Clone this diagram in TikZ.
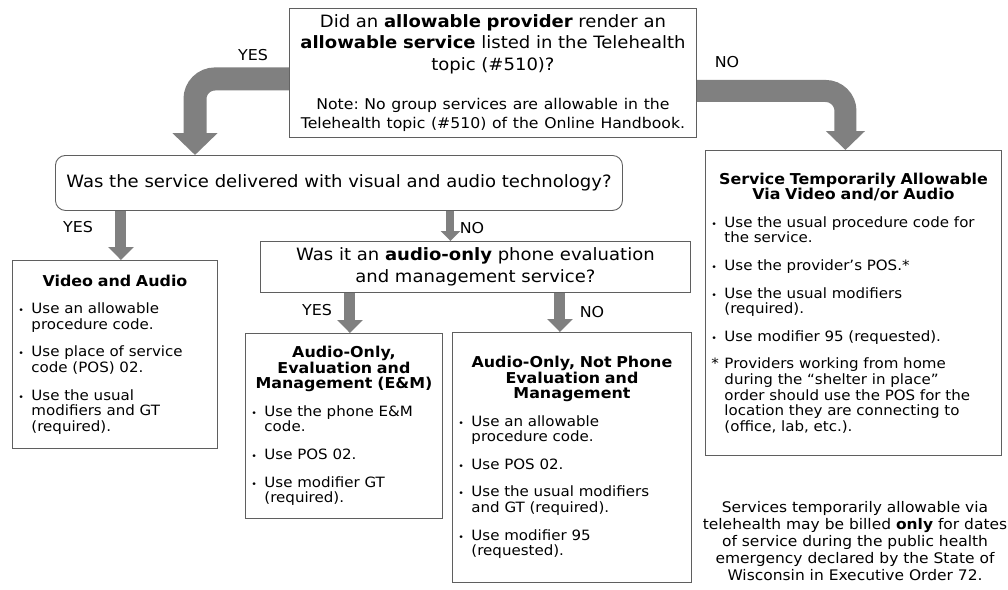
\documentclass[tikz,border=0pt]{standalone}
\usepackage{fontspec}
\setmainfont[FakeStretch=1.06]{DejaVu Sans}
\usetikzlibrary{arrows.meta,positioning,calc}
\definecolor{arrowgray}{RGB}{128,128,128}
\definecolor{linegray}{RGB}{95,95,95}
\newlength{\itmsep}
\setlength{\itmsep}{12pt}
\newcommand{\ttl}[1]{{\centering\fontsize{15}{15.5}\bfseries #1\par}}
\newcommand{\itm}[2][{\small\textbullet}]{\par\vspace{\itmsep}\hangindent=13pt\hangafter=1\noindent\hbox to 13pt{#1\hfil}#2\par}
\frenchspacing

\begin{document}
\begin{tikzpicture}[x=1pt,y=-1pt,
    box/.style={draw=linegray, line width=0.9pt, inner xsep=6pt, inner ysep=6pt,
      anchor=north west, align=left, font=\fontsize{14.2}{15.6}\selectfont},
    qbox/.style={draw=linegray, line width=0.9pt, align=center, anchor=north west,
      font=\fontsize{17}{21.5}\selectfont},
    fatarrow/.style={draw=arrowgray, line width=23pt, -{Triangle[width=44pt,length=22pt]}},
    thinarrow/.style={draw=arrowgray, line width=11pt, -{Triangle[width=25pt,length=13pt]}},
    lbl/.style={font=\fontsize{15}{18}\selectfont}]
  \useasboundingbox (0,0) rectangle (1008,589);

  % questions
  \node[qbox, text width=399pt, minimum height=129pt, inner xsep=4pt] (q1) at (289,8)
    {Did an \textbf{allowable provider} render an\\
     \textbf{allowable service} listed in the Telehealth\\
     topic (\#510)?\\[20pt]
     {\fontsize{14.8}{19}\selectfont Note: No group services are allowable in the\\
     Telehealth topic (\#510) of the Online Handbook.\par}};
  \node[qbox, rounded corners=10pt, minimum width=567pt, minimum height=55pt] (visual) at (55,155)
    {Was the service delivered with visual and audio technology?};
  \node[qbox, minimum width=430pt, minimum height=51pt] (q2) at (260,241)
    {Was it an \textbf{audio-only} phone evaluation\\ and management service?};

  % outcomes
  \node[box, text width=193pt, minimum height=188pt] (video) at (12,260)
    {\ttl{Video and Audio}
     \itm{Use an allowable\newline procedure code.}
     \itm{Use place of service\newline code (POS) 02.}
     \itm{Use the usual\newline modifiers and GT\newline (required).}};
  \node[box, text width=185pt, minimum height=185pt] (em) at (245,333)
    {\ttl{Audio-Only,\\ Evaluation and\\ Management (E\&M)}
     \itm{Use the phone E\&M\newline code.}
     \itm{Use POS 02.}
     \itm{Use modifier GT\newline (required).}};
  \node[box, text width=227pt, minimum height=250pt] (np) at (452,332)
    {\ttl{Audio-Only, Not Phone\\ Evaluation and\\ Management}
     \itm{Use an allowable\newline procedure code.}
     \itm{Use POS 02.}
     \itm{Use the usual modifiers\newline and GT (required).}
     \itm{Use modifier 95\newline (requested).}};
  \node[box, text width=284pt, minimum height=305pt] (temp) at (705,150)
    {\ttl{Service Temporarily Allowable\\ Via Video and/or Audio}
     \itm{Use the usual procedure code for\newline the service.}
     \itm{Use the provider’s POS.*}
     \itm{Use the usual modifiers\newline (required).}
     \itm{Use modifier 95 (requested).}
     \itm[*]{Providers working from home\newline during the “shelter in place”\newline
       order should use the POS for the\newline location they are connecting to\newline
       (office, lab, etc.).}};
  \node[align=center, font=\fontsize{14.6}{17}\selectfont] (note) at (855,541)
    {Services temporarily allowable via\\
     telehealth may be billed \textbf{only} for dates\\
     of service during the public health\\
     emergency declared by the State of\\
     Wisconsin in Executive Order 72.};

  % arrows
  \draw[fatarrow, rounded corners=20pt] ([yshift=-6pt]q1.west) -| ([xshift=140pt]visual.north west);
  \draw[fatarrow, line width=22pt, -{Triangle[width=38pt,length=19pt]}, rounded corners=20pt]
    ([yshift=-18pt]q1.east) -| ([xshift=-8pt]temp.north);
  \draw[thinarrow] ([xshift=6pt]video.north |- visual.south) -- ([xshift=6pt]video.north);
  \draw[thinarrow, line width=8pt, -{Triangle[width=19pt,length=10pt]}]
    ([xshift=-25pt]q2.north |- visual.south) -- ([xshift=-25pt]q2.north);
  \draw[thinarrow] ([xshift=6pt]em.north |- q2.south) -- ([xshift=6pt]em.north);
  \draw[thinarrow] ([xshift=-12pt]np.north |- q2.south) -- ([xshift=-12pt]np.north);

  % labels
  \node[lbl] (yes1) at (253,55) {YES};
  \node[lbl] (no1) at (727,62) {NO};
  \node[lbl] (yes2) at (78,227) {YES};
  \node[lbl] (no2) at (472,228) {NO};
  \node[lbl] (yes3) at (317,310) {YES};
  \node[lbl] (no3) at (592,312) {NO};
\end{tikzpicture}
\end{document}
